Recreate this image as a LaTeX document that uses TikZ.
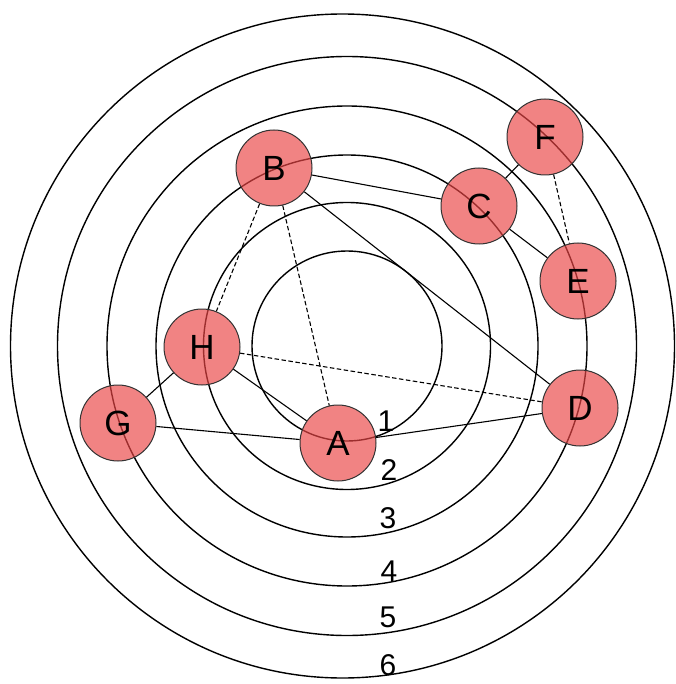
\documentclass[tikz,border=0pt]{standalone}
\usepackage{fontspec}
\setmainfont{Liberation Sans}

\begin{document}
\begin{tikzpicture}[
    x=1pt, y=-1pt,
    ring/.style={draw=black, line width=1.4pt},
    vertex/.style={circle, draw=black!80, line width=1pt, fill={rgb,255:red,234;green,70;blue,70}, fill opacity=0.67, text opacity=1, minimum size=76pt, inner sep=0pt, font=\fontsize{35}{40}\selectfont},
    edge/.style={draw=black, line width=1.1pt},
    weakedge/.style={edge, dash pattern=on 4.5pt off 2.5pt},
    ringlabel/.style={inner sep=0pt, font=\fontsize{30}{34}\selectfont}
]
\useasboundingbox (0,0) rectangle (675,684);

% ===== RINGS =====
\draw[ring] (347,346) circle (95pt);
\draw[ring] (347,346) circle (143.5pt);
\draw[ring] (347,346) circle (191pt);
\draw[ring] (347,346) circle (240pt);
\draw[ring] (347,346) circle (289.5pt);
\draw[ring] (342.5,346) circle (332pt);

\node[ringlabel] (lab1) at (386,421) {1};
\node[ringlabel] (lab2) at (389,470) {2};
\node[ringlabel] (lab3) at (388,518) {3};
\node[ringlabel] (lab4) at (389,571) {4};
\node[ringlabel] (lab5) at (388,617) {5};
\node[ringlabel] (lab6) at (388,665) {6};

% ===== VERTICES =====
\node[vertex] (A) at (338,443) {A};
\node[vertex] (B) at (274,168) {B};
\node[vertex] (C) at (479,206) {C};
\node[vertex] (D) at (580,408) {D};
\node[vertex] (E) at (578,281) {E};
\node[vertex] (F) at (545,137) {F};
\node[vertex] (G) at (118,423) {G};
\node[vertex] (H) at (202,347) {H};

% ===== EDGES =====
\draw[edge] (G) -- (H);
\draw[edge] (G) -- (A);
\draw[edge] (H) -- (A);
\draw[edge] (A) -- (D);
\draw[edge] (B) -- (C);
\draw[edge] (B) -- (D);
\draw[edge] (C) -- (F);
\draw[edge] (C) -- (E);

\draw[weakedge] (B) -- (H);
\draw[weakedge] (B) -- (A);
\draw[weakedge] (H) -- (D);
\draw[weakedge] (F) -- (E);

\end{tikzpicture}
\end{document}
